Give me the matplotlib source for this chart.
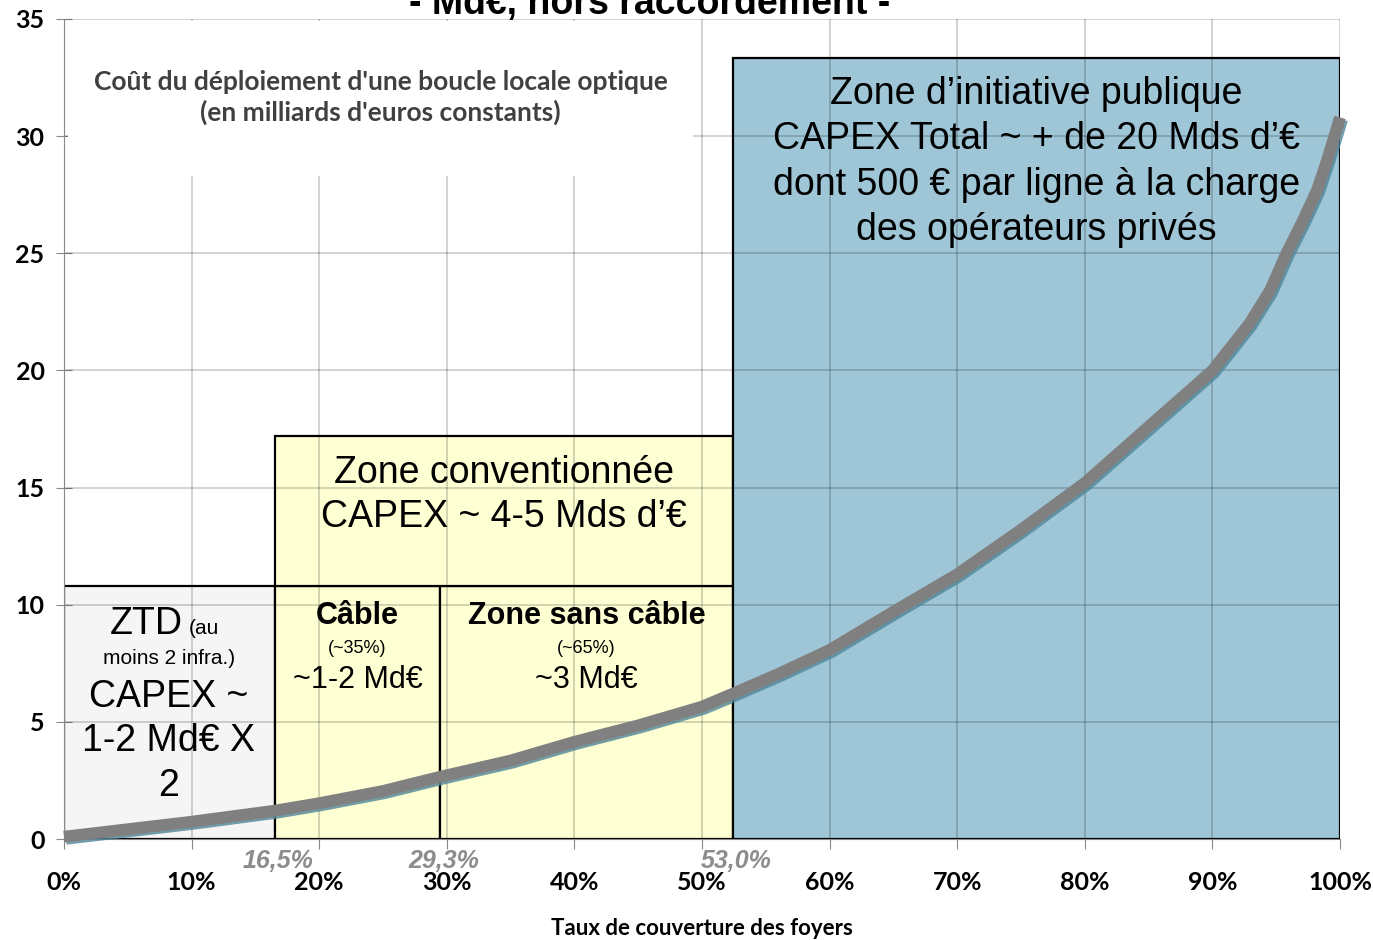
import numpy as np
import matplotlib
matplotlib.use("Agg")
from matplotlib import pyplot as plt
from matplotlib.patches import Rectangle
import matplotlib.patheffects as pe

# courbe : cout cumule (Md EUR) selon le taux de couverture (%)
couverture = [0, 5, 10, 16.5, 20, 25, 29.5, 35, 40, 45, 50, 52.4, 56, 60, 65,
              70, 75, 80, 85, 90, 92.9, 94.5, 95.8, 97, 98.2, 99, 99.5, 100]
cout = [0.1, 0.42, 0.74, 1.21, 1.53, 2.05, 2.66, 3.35, 4.15, 4.85, 5.65, 6.2,
        7.05, 8.07, 9.7, 11.3, 13.2, 15.2, 17.6, 20.0, 22.0, 23.4, 25.0, 26.3,
        27.7, 29.0, 29.9, 30.8]

# limites des zones (%) telles que dessinees, et leurs etiquettes
seuils = [16.5, 29.5, 52.4]
seuils_txt = ["16,5%", "29,3%", "53,0%"]
haut_bas = 10.8
haut_conv = 17.2
haut_public = 33.35

xticks = list(range(0, 101, 10))
yticks = list(range(0, 36, 5))

fig = plt.figure(figsize=(13.73, 9.40), dpi=100)
ax = fig.add_axes([0.0466, 0.1074, 0.9294, 0.8724])
ax.set_xlim(0, 100)
ax.set_ylim(0, 35)

# zones
jaune = "#ffffd4"
zones = [
    (0, 0, seuils[0], haut_bas, "#f5f5f5"),
    (seuils[0], 0, seuils[1] - seuils[0], haut_bas, jaune),
    (seuils[1], 0, seuils[2] - seuils[1], haut_bas, jaune),
    (seuils[0], haut_bas, seuils[2] - seuils[0], haut_conv - haut_bas, jaune),
    (seuils[2], 0, 100 - seuils[2], haut_public, "#9fc6d7"),
]
for x0, y0, w, h, c in zones:
    ax.add_patch(Rectangle((x0, y0), w, h, facecolor=c, edgecolor="black",
                           lw=1.6, zorder=1))

# grille par dessus les zones
for xv in xticks:
    ax.axvline(xv, color="black", alpha=0.2, lw=1.2, zorder=2)
for yv in yticks:
    ax.axhline(yv, color="black", alpha=0.2, lw=1.2, zorder=2)

# cartouche blanc du titre interne
ax.add_patch(Rectangle((0.3, 28.3), 49.0, 6.6, facecolor="white",
                       edgecolor="none", zorder=3))
ax.text(24.8, 31.65, "Coût du déploiement d'une boucle locale optique\n(en milliards d'euros constants)",
        ha="center", va="center", fontsize=19, fontweight="bold",
        family="Lato", color="#404040", linespacing=1.3, zorder=4)

# courbe
ax.plot(couverture, cout, color="#808080", lw=8.5, zorder=5, clip_on=False,
        solid_capstyle="butt", solid_joinstyle="round",
        path_effects=[pe.SimpleLineShadow(offset=(1.5, -1.5),
                                          shadow_color="#4f8599", alpha=0.8),
                      pe.Normal()])

arial = "Liberation Sans"
big = 27

# ZTD
ax.text(9.3, 8.75, "ZTD", ha="right", va="baseline", fontsize=big, family=arial, zorder=6)
ax.text(9.8, 8.75, "(au", ha="left", va="baseline", fontsize=15, family=arial, zorder=6)
ax.text(8.2, 7.72, "moins 2 infra.)", ha="center", va="center", fontsize=15,
        family=arial, zorder=6)
for yy, t in zip([6.06, 4.18, 2.26], ["CAPEX ~", "1-2 Md€ X", "2"]):
    ax.text(8.2, yy, t, ha="center", va="center", fontsize=big, family=arial, zorder=6)

# Cable / sans cable
centres = [(seuils[0] + seuils[1]) / 2, (seuils[1] + seuils[2]) / 2]
for xc, titre, part, montant in [(centres[0], "Câble", "(~35%)", "~1-2 Md€"),
                                 (centres[1], "Zone sans câble", "(~65%)", "~3 Md€")]:
    ax.text(xc, 9.52, titre, ha="center", va="center", fontsize=22,
            fontweight="bold", family=arial, zorder=6)
    ax.text(xc, 8.15, part, ha="center", va="center", fontsize=13,
            family=arial, zorder=6)
    ax.text(xc, 6.79, montant, ha="center", va="center", fontsize=22,
            family=arial, zorder=6)

# zone conventionnee
xconv = (seuils[0] + seuils[2]) / 2
for yy, t in zip([15.62, 13.74], ["Zone conventionnée", "CAPEX ~ 4-5 Mds d’€"]):
    ax.text(xconv, yy, t, ha="center", va="center", fontsize=big, family=arial, zorder=6)

# zone d'initiative publique
lignes_pub = ["Zone d’initiative publique", "CAPEX Total ~ + de 20 Mds d’€",
              "dont 500 € par ligne à la charge", "des opérateurs privés"]
xpub = (seuils[2] + 100) / 2
for yy, t in zip([31.8, 29.87, 27.91, 25.99], lignes_pub):
    ax.text(xpub, yy, t, ha="center", va="center", fontsize=big, family=arial, zorder=6)

# seuils en italique
for xs, t in zip(seuils, seuils_txt):
    ax.text(xs + 0.3, -0.95, t, ha="center", va="center", fontsize=18,
            fontweight="bold", fontstyle="italic", color="#8c8c8c",
            family=arial, clip_on=False)

# axes
ax.set_xticks(xticks)
ax.set_xticklabels([f"{v}%" for v in xticks])
ax.set_yticks(yticks)
ax.tick_params(axis="x", direction="out", length=7, color="#888888", pad=16,
               labelsize=18)
ax.tick_params(axis="y", direction="inout", length=12, color="#888888", pad=8,
               labelsize=18)
for lab in ax.get_xticklabels() + ax.get_yticklabels():
    lab.set_fontweight("bold")
    lab.set_family("Lato")
for s in ["top", "right"]:
    ax.spines[s].set_visible(False)
ax.spines["left"].set_color("#888888")
ax.spines["bottom"].set_color("#888888")
ax.set_xlabel("Taux de couverture des foyers", fontsize=16, fontweight="bold",
              family="Lato", labelpad=17)

fig.text(0.473, 0.985, "- Md€, hors raccordement -", ha="center", va="baseline",
         fontsize=27, fontweight="bold", family=arial)

fig.savefig("out.png", dpi=100)
